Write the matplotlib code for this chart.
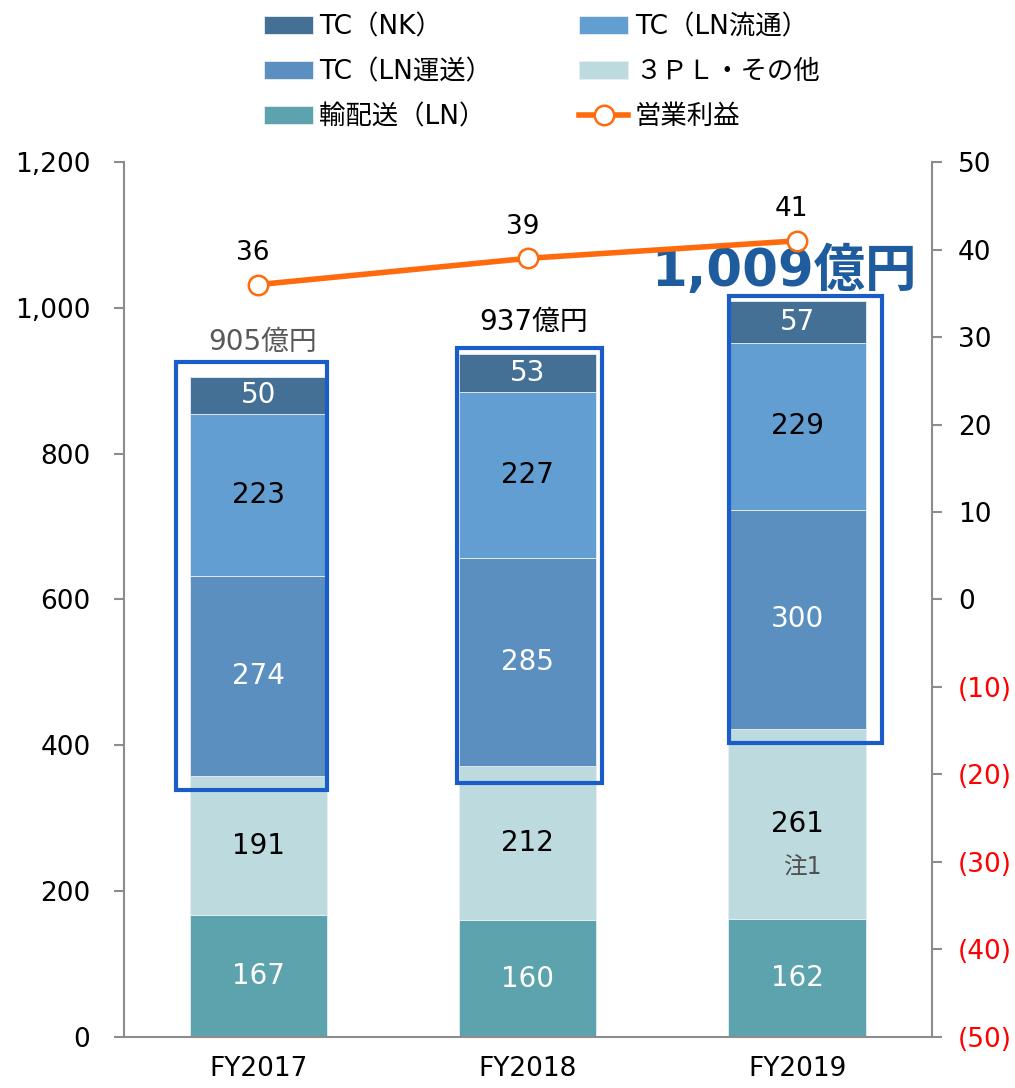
import numpy as np
import matplotlib
matplotlib.use("Agg")
import matplotlib.pyplot as plt
from matplotlib.patches import Rectangle
from matplotlib.lines import Line2D

plt.rcParams['font.family'] = ['DejaVu Sans', 'Noto Sans CJK JP']

# data
years = ['FY2017', 'FY2018', 'FY2019']
haisou = [167, 160, 162]      # 輸配送（LN）
tpl = [191, 212, 261]         # ３ＰＬ・その他
ln_unso = [274, 285, 300]     # TC（LN運送）
ln_ryutsu = [223, 227, 229]   # TC（LN流通）
nk = [50, 53, 57]             # TC（NK）
profit = [36, 39, 41]         # 営業利益
totals = ['905億円', '937億円', '1,009億円']

series = [
    ('輸配送（LN）', haisou, '#5CA3AD', 'white'),
    ('３ＰＬ・その他', tpl, '#BDDBDF', 'black'),
    ('TC（LN運送）', ln_unso, '#5A8FC0', 'white'),
    ('TC（LN流通）', ln_ryutsu, '#629ED1', 'black'),
    ('TC（NK）', nk, '#457096', 'white'),
]

fig = plt.figure(figsize=(10.15, 10.88), dpi=100)
ax = fig.add_axes([0.122, 0.047, 0.796, 0.804])
x = np.arange(len(years))
width = 0.51

bottom = np.zeros(len(years))
handles = {}
for name, vals, col, tcol in series:
    vals = np.array(vals)
    b = ax.bar(x, vals, width, bottom=bottom, color=col, edgecolor='#e8eef2',
               linewidth=0.6, zorder=2)
    handles[name] = b
    for xi, v, b0 in zip(x, vals, bottom):
        ax.text(xi, b0 + v / 2, str(v), ha='center', va='center',
                fontsize=20, color=tcol, zorder=5)
    bottom = bottom + vals

ax.text(x[2] + 0.02, 232, '注1', ha='center', va='center', fontsize=17,
        color='#505050', zorder=5)

# highlight boxes around the TC segments (left, right offset, bottom, top)
boxes = [(-0.307, 0.254, 339, 926), (-0.263, 0.275, 348, 945), (-0.253, 0.315, 403, 1016)]
for xi, (l, r, b0, t) in zip(x, boxes):
    ax.add_patch(Rectangle((xi + l, b0), r - l, t - b0, fill=False,
                           edgecolor='#1A5CC8', linewidth=3, zorder=6))

# totals
ax.text(x[0] + 0.015, 953, totals[0], ha='center', va='center', fontsize=20, color='#595959')
ax.text(x[1] + 0.02, 981, totals[1], ha='center', va='center', fontsize=20, color='black')
ax.text(x[2] - 0.05, 1049, totals[2], ha='center', va='center', fontsize=37,
        color='#1F5C9E', fontweight='bold', zorder=7)

ax.set_xlim(-0.5, 2.5)
ax.set_ylim(0, 1200)
ax.set_yticks(np.arange(0, 1201, 200))
ax.set_yticklabels([f'{v:,}' for v in range(0, 1201, 200)])
ax.set_xticks(x)
ax.set_xticklabels(years)
ax.tick_params(axis='x', length=0, labelsize=19, pad=14)
ax.tick_params(axis='y', length=7, color='#8c8c8c', labelsize=19, pad=17, width=1.5)
for s in ['top', 'right']:
    ax.spines[s].set_visible(False)
ax.spines['left'].set_color('#8c8c8c')
ax.spines['left'].set_linewidth(1.5)
ax.spines['bottom'].set_color('#8c8c8c')
ax.spines['bottom'].set_linewidth(1.5)

# operating profit on the right axis
ax2 = ax.twinx()
ax2.set_ylim(-50, 50)
ax2.plot(x, profit, color='#FF6A0D', linewidth=4, marker='o', markersize=14,
         markerfacecolor='white', markeredgecolor='#FF6A0D', markeredgewidth=1.8, zorder=4)
for xi, p in zip(x, profit):
    ax2.text(xi - 0.02, p + 3.6, str(p), ha='center', va='center', fontsize=19)
rticks = np.arange(-50, 51, 10)
ax2.set_yticks(rticks)
ax2.set_yticklabels([str(v) if v >= 0 else f'({-v})' for v in rticks])
for lab, v in zip(ax2.get_yticklabels(), rticks):
    lab.set_color('red' if v < 0 else 'black')
ax2.tick_params(axis='y', length=7, color='#8c8c8c', labelsize=19, pad=12, width=1.5)
for s in ['top', 'left', 'bottom']:
    ax2.spines[s].set_visible(False)
ax2.spines['right'].set_color('#8c8c8c')
ax2.spines['right'].set_linewidth(1.5)

line_h = Line2D([], [], color='#FF6A0D', linewidth=4, marker='o', markersize=14,
                markerfacecolor='white', markeredgecolor='#FF6A0D', markeredgewidth=1.8)
order = ['TC（NK）', 'TC（LN運送）', '輸配送（LN）', 'TC（LN流通）', '３ＰＬ・その他']
hs = [handles[n] for n in order] + [line_h]
labels = order + ['営業利益']
fig.legend(hs, labels, loc='upper left', bbox_to_anchor=(0.247, 0.999), ncol=2,
           frameon=False, fontsize=19, handlelength=1.85, handleheight=0.7,
           columnspacing=3.3, labelspacing=0.72, handletextpad=0.25, borderpad=0)

fig.savefig('out.png', dpi=100)
